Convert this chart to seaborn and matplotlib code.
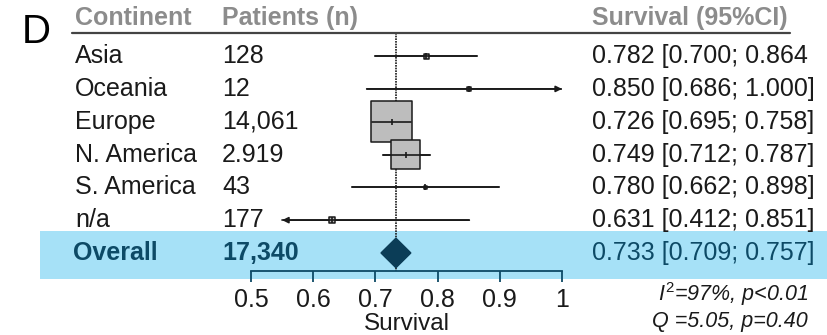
import numpy as np
import pandas as pd
import matplotlib.pyplot as plt
import matplotlib.transforms as mtransforms
from matplotlib.patches import Rectangle, Polygon
import seaborn as sns

# data
continents = ['Asia', 'Oceania', 'Europe', 'N. America', 'S. America', 'n/a']
patients = ['128', '12', '14,061', '2.919', '43', '177']
survival = [0.782, 0.850, 0.726, 0.749, 0.780, 0.631]
lower = [0.700, 0.686, 0.695, 0.712, 0.662, 0.412]
upper = [0.864, 1.000, 0.758, 0.787, 0.898, 0.851]
ci_text = ['0.782 [0.700; 0.864', '0.850 [0.686; 1.000]', '0.726 [0.695; 0.758]',
           '0.749 [0.712; 0.787]', '0.780 [0.662; 0.898]', '0.631 [0.412; 0.851]']
weights = [1.0, 0.6, 64.5, 32.2, 0.3, 1.4]   # % weight, from box areas

overall_n = '17,340'
overall = 0.733
overall_lo = 0.709
overall_hi = 0.757
overall_text = '0.733 [0.709; 0.757]'
xticks = [0.5, 0.6, 0.7, 0.8, 0.9, 1.0]
xticklabels = ['0.5', '0.6', '0.7', '0.8', '0.9', '1']
het1 = r'$I^2$=97%, p<0.01'
het2 = 'Q =5.05, p=0.40'

df = pd.DataFrame({'continent': continents, 'est': survival, 'lo': lower,
                   'hi': upper, 'w': weights})
df['row'] = np.arange(1, len(df) + 1)
overall_row = len(df) + 1

sns.set_theme(style='white')
plt.rcParams['font.family'] = ['Liberation Sans', 'DejaVu Sans']
plt.rcParams['mathtext.fontset'] = 'custom'
plt.rcParams['mathtext.it'] = 'Liberation Sans:italic'
plt.rcParams['mathtext.rm'] = 'Liberation Sans'

W, H = 828, 335
fig = plt.figure(figsize=(W / 100, H / 100), dpi=100)
ax = fig.add_axes([251 / W, (H - 271) / H, 311 / W, 271 / H])
ax.set_xlim(0.5, 1.0)
ax.set_ylim(7.55, -0.71)
trans = mtransforms.blended_transform_factory(fig.transFigure, ax.transData)

dark = '#1a1a1a'
teal = '#0d4a66'
fs = 18

# overall band
ax.add_patch(Rectangle((40 / W, 6.34), 1 - 40 / W, 1.46, transform=trans,
                       facecolor='#a6e1f7', edgecolor='none', zorder=0,
                       clip_on=False))

# reference line at overall estimate
ax.plot([overall, overall], [0.3, 7.55], color=dark, lw=1.2, ls=(0, (1, 0.6)),
        zorder=1, clip_on=False)

# confidence intervals (arrows where they run off the scale)
lo_clip = 0.55
for _, r in df.iterrows():
    lo, hi = r['lo'], r['hi']
    if lo < 0.5:
        ax.annotate('', xy=(lo_clip, r['row']), xytext=(hi, r['row']),
                    arrowprops=dict(arrowstyle='-|>', color=dark, lw=1.2,
                                    mutation_scale=9, shrinkA=0, shrinkB=0),
                    zorder=2)
    elif hi >= 1.0:
        ax.annotate('', xy=(1.0, r['row']), xytext=(lo, r['row']),
                    arrowprops=dict(arrowstyle='-|>', color=dark, lw=1.2,
                                    mutation_scale=9, shrinkA=0, shrinkB=0),
                    zorder=2)
    else:
        ax.plot([lo, hi], [r['row'], r['row']], color=dark, lw=1.2, zorder=2)

# weighted boxes
sns.scatterplot(data=df, x='est', y='row', size='w', sizes=(0, 870),
                size_norm=(0, max(weights)), marker='s', color='#bdbdbd',
                edgecolor=dark, linewidth=1.1, legend=False, ax=ax, zorder=3)
ax.plot(df['est'], df['row'], ls='none', marker='|', ms=5, mew=1.2,
        color=dark, zorder=4)
for _, r in df.iterrows():
    ax.plot([r['lo'] if r['lo'] >= 0.5 else lo_clip, min(r['hi'], 1.0)],
            [r['row'], r['row']], color=dark, lw=1.2, zorder=4)

# overall diamond
ax.add_patch(Polygon([(overall_lo, overall_row), (overall, overall_row - 0.45),
                      (overall_hi, overall_row), (overall, overall_row + 0.45)],
                     closed=True, facecolor='#0b3d57', edgecolor='#0b3d57',
                     zorder=3))

# axis
for s in ['top', 'left', 'right']:
    ax.spines[s].set_visible(False)
ax.spines['bottom'].set_color(teal)
ax.spines['bottom'].set_linewidth(1.3)
ax.set_yticks([])
ax.set_ylabel('')
ax.set_xticks(xticks)
ax.set_xticklabels(xticklabels, fontsize=fs)
ax.tick_params(axis='x', bottom=True, direction='out', length=8, width=1.3,
               color=teal, pad=4, labelcolor=dark)
ax.set_xlabel('Survival', fontsize=fs - 0.5, color=dark, labelpad=1)
ax.set_facecolor('none')

# header
gray = '#8c8c8c'
ax.text(75 / W, -0.17, 'Continent', transform=trans, fontsize=fs,
        fontweight='bold', color=gray, va='center')
ax.text(222 / W, -0.17, 'Patients (n)', transform=trans, fontsize=fs,
        fontweight='bold', color=gray, va='center')
ax.text(592 / W, -0.17, 'Survival (95%CI)', transform=trans, fontsize=fs,
        fontweight='bold', color=gray, va='center')
ax.plot([72 / W, 790 / W], [0.3, 0.3], transform=trans, color='#444444',
        lw=1.6, clip_on=False)
fig.text(22 / W, 1 - 32 / H, 'D', fontsize=29, color='black', va='center')

# table columns
for _, r in df.iterrows():
    i = int(r['row']) - 1
    ax.text(75 / W, r['row'], continents[i], transform=trans, fontsize=fs,
            color=dark, va='center')
    ax.text(222 / W, r['row'], patients[i], transform=trans, fontsize=fs,
            color=dark, va='center')
    ax.text(592 / W, r['row'], ci_text[i], transform=trans, fontsize=fs,
            color=dark, va='center')

ax.text(73 / W, overall_row, 'Overall', transform=trans, fontsize=fs,
        fontweight='bold', color=teal, va='center')
ax.text(222 / W, overall_row, overall_n, transform=trans, fontsize=fs,
        fontweight='bold', color=teal, va='center')
ax.text(592 / W, overall_row, overall_text, transform=trans, fontsize=fs,
        color=teal, va='center')

fig.text(808 / W, 1 - 294 / H, het1, fontsize=15.5, style='italic',
         color=dark, ha='right', va='center')
fig.text(808 / W, 1 - 322 / H, het2, fontsize=15.5, style='italic',
         color=dark, ha='right', va='center')

fig.savefig('out.png', dpi=100)
